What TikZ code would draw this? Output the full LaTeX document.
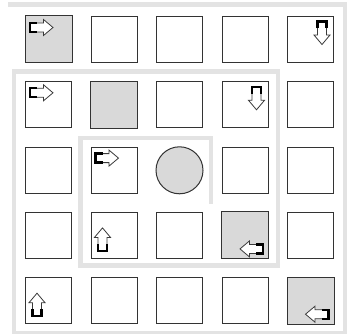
\documentclass[tikz,border=0pt]{standalone}
\usetikzlibrary{calc}
\definecolor{spiralgray}{HTML}{E3E3E3}
\definecolor{cellfill}{HTML}{D9D9D9}
\definecolor{cellline}{HTML}{333333}
\definecolor{arrowline}{HTML}{3A3A3A}
\tikzset{
  cellbox/.style={draw=cellline, line width=1pt, minimum size=46pt, inner sep=0pt, fill=white},
  spiral/.style={draw=spiralgray, line width=4.5pt},
  blkarrow/.pic={
    \draw[line width=0.8pt, draw=arrowline, fill=white]
      (0,4.5)--(13.5,4.5)--(13.5,8)--(23,0)--(13.5,-8)--(13.5,-4.5)--(0,-4.5)--cycle;
    \draw[line width=2.4pt, black] (7,4.5)--(0,4.5)--(0,-4.5)--(7,-4.5);
  }
}
\begin{document}
\begin{tikzpicture}[x=1pt, y={(0pt,-1pt)}]
\useasboundingbox (0,0) rectangle (353,334);
% spiral path
\draw[spiral] (8,4.5) -- (345,4.5) -- (345,333) -- (14,333) -- (14,71.5)
  -- (278,71.5) -- (278,265.5) -- (80.5,265.5) -- (80.5,138) -- (211,138) -- (211,204);
% cells
\foreach \r in {0,...,4}{
  \foreach \c in {0,...,4}{
    \ifnum\r=2 \ifnum\c=2 \else
      \node[cellbox] (c\r\c) at ({48.5+65.5*\c},{39.5+65.3*\r}) {};
    \fi\else
      \node[cellbox] (c\r\c) at ({48.5+65.5*\c},{39.5+65.3*\r}) {};
    \fi
  }
}
\foreach \n in {c00,c11,c33,c44}{ \path[fill=cellfill, draw=cellline, line width=1pt] (\n.north west) rectangle (\n.south east); }
\node[circle, draw=cellline, line width=1pt, fill=cellfill, minimum size=47pt, inner sep=0pt] (c22) at (179.5,170.3) {};
% arrows
\foreach \n in {c00,c10,c21}{ \pic at ([shift={(5,11.5)}]\n.north west) {blkarrow}; }
\foreach \n in {c04,c13}{ \pic[rotate=-90] at ([shift={(-12,5.5)}]\n.north east) {blkarrow}; }
\foreach \n in {c31,c40}{ \pic[rotate=90] at ([shift={(12,-8)}]\n.south west) {blkarrow}; }
\foreach \n in {c33,c44}{ \pic[rotate=180] at ([shift={(-5.5,-10)}]\n.south east) {blkarrow}; }
\end{tikzpicture}
\end{document}
